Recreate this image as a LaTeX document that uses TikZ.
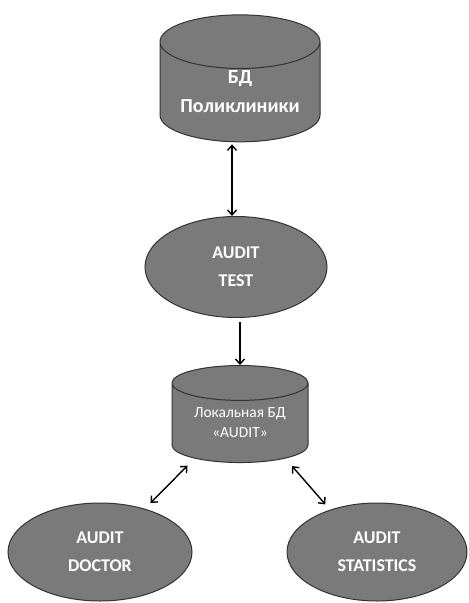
\documentclass[tikz,border=0pt]{standalone}
\usepackage{fontspec}
\setmainfont{Carlito}
\usetikzlibrary{arrows.meta, shapes.geometric}

\begin{document}
\begin{tikzpicture}[x=1bp, y=-1bp,
  db/.style={cylinder, shape border rotate=90, draw=black!80, fill=black!52,
    line width=1bp, text=white, align=center, inner sep=0pt},
  proc/.style={ellipse, draw=black!80, fill=black!52, line width=1bp,
    text=white, align=center, inner sep=0pt,
    font=\bfseries\fontsize{18}{28}\selectfont},
  link/.style={{Straight Barb[length=5bp,width=9bp]}-{Straight Barb[length=5bp,width=9bp]},
    line width=1.4bp}]
  \useasboundingbox (0,0) rectangle (469,603);

  % Databases
  \node[db, minimum width=160bp, minimum height=127bp, aspect=0.45,
    font=\bfseries\fontsize{20}{29}\selectfont] (poly) at (240,92) {БД\\Поликлиники};
  \node[db, minimum width=136bp, minimum height=97bp, aspect=0.38,
    font=\fontsize{15.5}{20}\selectfont] (local) at (240,423) {Локальная БД\\«AUDIT»};

  % Modules
  \node[proc, minimum width=182bp, minimum height=101bp] (test) at (236,267) {AUDIT\\TEST};
  \node[proc, minimum width=184bp, minimum height=98bp] (doctor) at (100,552) {AUDIT\\DOCTOR};
  \node[proc, minimum width=180bp, minimum height=98bp] (stats) at (377,552) {AUDIT\\STATISTICS};

  % Links
  \draw[link, shorten >=2bp] ([xshift=-4bp]test.north) -- ([xshift=-4bp]test.north |- poly.south);
  \draw[link, {Straight Barb[length=5bp,width=9bp]}-, shorten >=4bp] (local.north) -- (local.north |- test.south);
  \draw[link, shorten <=10bp, shorten >=8bp] (local.218) -- (doctor.44);
  \draw[link, shorten <=10bp, shorten >=7bp] (local.322) -- (stats.138);
\end{tikzpicture}
\end{document}
